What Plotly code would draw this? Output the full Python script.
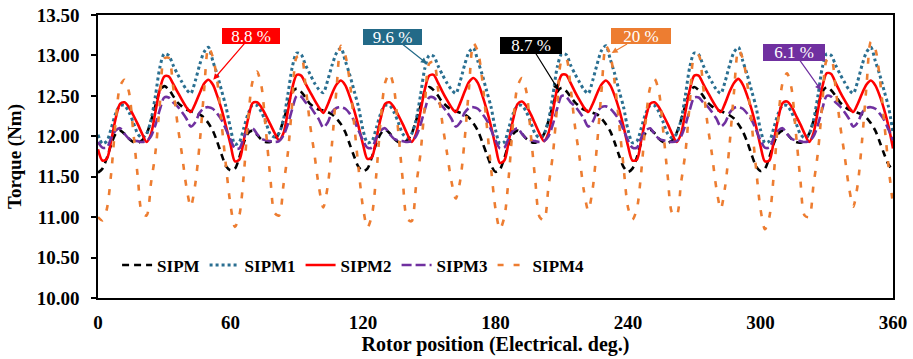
import plotly.graph_objects as go

# Rotor position grid (electrical degrees), every 2 deg from 0 to 360
angle = list(range(0, 361, 2))

# Torque values (Nm), one row per 60-deg period, plus the 360-deg value
sipm = (
    [11.55,11.60,11.73,11.90,12.03,12.07,12.03,11.97,11.93,11.92,11.95,12.03,12.19,12.38,12.56,12.62,12.58,12.50,12.42,12.37,12.33,12.31,12.29,12.27,12.23,12.16,12.07,11.93,11.77,11.63]
  + [11.58,11.60,11.74,11.92,12.04,12.07,12.02,11.96,11.93,11.93,11.96,12.04,12.20,12.38,12.55,12.59,12.55,12.48,12.40,12.36,12.33,12.32,12.30,12.27,12.22,12.15,12.05,11.90,11.75,11.62]
  + [11.57,11.60,11.74,11.91,12.03,12.08,12.04,11.97,11.93,11.92,11.95,12.03,12.19,12.37,12.55,12.61,12.57,12.50,12.42,12.37,12.33,12.31,12.29,12.27,12.23,12.16,12.07,11.93,11.78,11.64]
  + [11.56,11.59,11.73,11.91,12.03,12.07,12.03,11.97,11.93,11.92,11.95,12.03,12.19,12.38,12.55,12.60,12.56,12.49,12.42,12.37,12.33,12.31,12.29,12.27,12.22,12.15,12.06,11.92,11.76,11.62]
  + [11.56,11.60,11.74,11.92,12.04,12.08,12.04,11.97,11.93,11.92,11.95,12.04,12.20,12.38,12.55,12.61,12.57,12.50,12.42,12.37,12.33,12.31,12.29,12.26,12.22,12.15,12.06,11.93,11.77,11.63]
  + [11.57,11.60,11.74,11.91,12.03,12.07,12.03,11.97,11.93,11.92,11.95,12.03,12.19,12.37,12.55,12.61,12.57,12.50,12.42,12.37,12.33,12.31,12.29,12.27,12.23,12.16,12.07,11.93,11.78,11.65]
  + [11.58]
)

sipm1 = (
    [12.02,11.91,11.94,12.10,12.28,12.38,12.38,12.30,12.17,12.03,11.98,12.03,12.20,12.50,12.85,13.02,13.00,12.88,12.77,12.67,12.58,12.53,12.68,12.88,13.04,13.10,12.93,12.76,12.56,12.36]
  + [12.10,11.90,11.93,12.10,12.28,12.39,12.38,12.30,12.17,12.03,11.99,12.04,12.21,12.52,12.86,13.03,13.01,12.88,12.77,12.66,12.58,12.54,12.69,12.88,13.03,13.09,12.93,12.76,12.56,12.36]
  + [12.08,11.92,11.94,12.10,12.28,12.38,12.38,12.30,12.17,12.03,11.98,12.03,12.20,12.50,12.84,13.00,12.99,12.87,12.76,12.66,12.58,12.53,12.68,12.88,13.04,13.09,12.93,12.76,12.56,12.36]
  + [12.08,11.91,11.93,12.10,12.28,12.38,12.38,12.30,12.17,12.03,11.98,12.03,12.20,12.51,12.86,13.02,13.01,12.88,12.77,12.67,12.58,12.53,12.69,12.89,13.06,13.12,12.95,12.77,12.56,12.36]
  + [12.08,11.92,11.94,12.10,12.28,12.38,12.38,12.30,12.17,12.03,11.98,12.03,12.20,12.51,12.86,13.03,13.01,12.88,12.77,12.67,12.58,12.53,12.68,12.88,13.04,13.10,12.93,12.76,12.56,12.36]
  + [12.08,11.92,11.94,12.10,12.28,12.38,12.38,12.30,12.17,12.03,11.98,12.03,12.20,12.50,12.85,13.02,13.00,12.88,12.77,12.67,12.58,12.53,12.68,12.88,13.04,13.10,12.93,12.76,12.56,12.36]
  + [12.04]
)

sipm2 = (
    [11.84,11.70,11.72,11.95,12.22,12.40,12.42,12.36,12.26,12.15,12.03,11.93,12.03,12.30,12.58,12.74,12.74,12.65,12.55,12.45,12.36,12.30,12.40,12.53,12.65,12.70,12.64,12.50,12.33,12.12]
  + [11.90,11.69,11.71,11.95,12.22,12.41,12.42,12.36,12.26,12.15,12.04,11.95,12.04,12.31,12.60,12.76,12.75,12.65,12.55,12.45,12.36,12.29,12.39,12.53,12.64,12.69,12.63,12.49,12.32,12.12]
  + [11.90,11.72,11.74,11.96,12.22,12.40,12.42,12.36,12.26,12.15,12.03,11.93,12.03,12.30,12.58,12.75,12.76,12.66,12.55,12.45,12.36,12.30,12.41,12.55,12.67,12.72,12.66,12.51,12.33,12.12]
  + [11.88,11.67,11.70,11.94,12.21,12.40,12.43,12.37,12.27,12.15,12.03,11.94,12.04,12.31,12.60,12.76,12.76,12.66,12.55,12.45,12.36,12.30,12.40,12.53,12.64,12.69,12.63,12.50,12.33,12.12]
  + [11.88,11.70,11.71,11.95,12.22,12.40,12.42,12.36,12.26,12.15,12.03,11.93,12.03,12.30,12.58,12.75,12.75,12.65,12.55,12.45,12.36,12.30,12.41,12.55,12.66,12.71,12.64,12.50,12.33,12.12]
  + [11.88,11.69,11.70,11.94,12.22,12.41,12.43,12.37,12.26,12.15,12.03,11.93,12.04,12.32,12.61,12.78,12.77,12.66,12.55,12.45,12.36,12.30,12.40,12.53,12.64,12.69,12.63,12.50,12.33,12.12]
  + [11.85]
)

sipm3 = (
    [11.93,11.86,11.86,11.98,12.07,12.10,12.03,11.97,11.95,11.94,11.93,11.94,12.00,12.14,12.33,12.48,12.48,12.42,12.37,12.30,12.22,12.12,12.17,12.29,12.35,12.36,12.34,12.28,12.20,12.08]
  + [11.96,11.85,11.85,11.98,12.08,12.10,12.03,11.97,11.95,11.94,11.93,11.94,12.01,12.15,12.34,12.50,12.49,12.42,12.37,12.29,12.21,12.11,12.17,12.30,12.35,12.36,12.34,12.28,12.19,12.07]
  + [11.95,11.86,11.86,11.98,12.07,12.10,12.03,11.97,11.95,11.94,11.93,11.94,12.00,12.14,12.33,12.48,12.48,12.42,12.37,12.30,12.22,12.12,12.17,12.29,12.35,12.36,12.34,12.28,12.20,12.08]
  + [11.95,11.85,11.86,11.98,12.07,12.10,12.03,11.97,11.95,11.94,11.93,11.94,12.00,12.15,12.35,12.50,12.49,12.42,12.37,12.30,12.22,12.12,12.18,12.30,12.36,12.37,12.34,12.28,12.20,12.08]
  + [11.95,11.86,11.86,11.98,12.07,12.10,12.03,11.97,11.95,11.94,11.93,11.94,12.00,12.14,12.33,12.48,12.48,12.42,12.37,12.30,12.22,12.12,12.17,12.29,12.35,12.36,12.34,12.28,12.20,12.08]
  + [11.95,11.86,11.86,11.98,12.07,12.10,12.03,11.97,11.95,11.94,11.93,11.94,12.00,12.14,12.34,12.50,12.49,12.42,12.37,12.30,12.22,12.12,12.17,12.29,12.35,12.36,12.34,12.28,12.20,12.08]
  + [11.95]
)

sipm4 = (
    [11.00,10.96,11.10,11.55,12.18,12.62,12.70,12.55,12.05,11.50,11.05,11.02,11.42,11.80,12.40,12.96,12.97,12.62,12.15,11.78,11.38,11.13,11.40,11.90,12.55,13.10,12.98,12.68,12.15,11.62]
  + [11.15,10.88,11.02,11.52,12.22,12.68,12.80,12.62,12.08,11.50,11.05,11.02,11.40,11.80,12.42,12.98,12.99,12.62,12.15,11.78,11.38,11.12,11.38,11.92,12.58,13.12,13.00,12.68,12.15,11.60]
  + [11.12,10.87,11.02,11.52,12.20,12.66,12.78,12.60,12.05,11.46,10.98,10.95,11.38,11.78,12.38,12.90,12.92,12.58,12.15,11.80,11.45,11.23,11.45,11.95,12.60,13.15,13.05,12.70,12.15,11.60]
  + [11.10,10.85,11.00,11.50,12.18,12.62,12.72,12.55,12.02,11.46,11.00,10.96,11.38,11.78,12.40,12.94,12.96,12.60,12.12,11.75,11.33,11.08,11.35,11.90,12.56,13.12,13.00,12.66,12.15,11.62]
  + [11.12,10.97,11.10,11.56,12.18,12.60,12.71,12.55,12.05,11.50,11.05,11.02,11.42,11.80,12.42,12.98,13.00,12.62,12.15,11.78,11.36,11.10,11.38,11.90,12.55,13.07,12.96,12.65,12.15,11.60]
  + [11.10,10.85,11.00,11.52,12.20,12.66,12.78,12.60,12.05,11.48,11.02,11.00,11.40,11.80,12.40,12.94,12.96,12.60,12.15,11.78,11.38,11.13,11.40,11.95,12.62,13.17,13.08,12.72,12.18,11.62]
  + [11.15]
)

names = ["SIPM", "SIPM1", "SIPM2", "SIPM3", "SIPM4"]
series = [sipm, sipm1, sipm2, sipm3, sipm4]
colors = ["#000000", "#2A6F91", "#FF0000", "#7030A0", "#ED7D31"]
dashes = ["7px,5px", "3px,3px", "solid", "10px,4px", "6px,10px"]
widths = [2.6, 3.0, 2.6, 2.6, 2.6]

x_ticks = [0, 60, 120, 180, 240, 300, 360]

# Ripple annotations: label, arrow-head angle, arrow-head torque, box colour, offsets
ann_labels = ["8.8 %", "9.6 %", "8.7 %", "20 %", "6.1 %"]
ann_x = [52.2, 148.9, 208.6, 232.6, 327.4]
ann_y = [12.70, 12.90, 12.57, 13.03, 12.57]
ann_colors = ["#FF0000", "#236A88", "#000000", "#ED7D31", "#7030A0"]
ann_ax = [38, -34, -28, 29, -27]
ann_ay = [-44, -27, -45, -17, -38]
ann_w = [58, 59, 62, 60, 62]
ann_h = [16, 16, 17, 16, 17]

FONT = "Liberation Serif"

fig = go.Figure()
for n, s, c, d, w in zip(names, series, colors, dashes, widths):
    fig.add_trace(go.Scatter(
        x=angle, y=s, name=n, mode="lines",
        line=dict(color=c, dash=d, width=w, shape="spline", smoothing=0.8),
    ))

for t, xa, ya, c, ax, ay, bw, bh in zip(ann_labels, ann_x, ann_y, ann_colors, ann_ax, ann_ay, ann_w, ann_h):
    fig.add_annotation(
        x=xa, y=ya, xref="x", yref="y", text=t,
        showarrow=True, arrowhead=2, arrowsize=1, arrowwidth=1.2, arrowcolor=c,
        ax=ax, ay=ay, standoff=0,
        bgcolor=c, bordercolor=c, borderwidth=0, borderpad=0,
        width=bw, height=bh,
        font=dict(family=FONT, size=17, color="white"),
    )

fig.update_layout(
    width=913, height=359,
    margin=dict(l=98, r=20, t=15, b=61, autoexpand=False),
    paper_bgcolor="white", plot_bgcolor="white",
    font=dict(family=FONT, color="black"),
    showlegend=True,
    legend=dict(
        orientation="h", x=0.024, xanchor="left", y=0.115, yanchor="middle",
        font=dict(family=FONT, size=17, color="black", weight="bold"),
        bgcolor="rgba(0,0,0,0)", itemwidth=30, tracegroupgap=0,
    ),
    xaxis=dict(
        range=[0, 360], tickvals=x_ticks, ticktext=[str(v) for v in x_ticks],
        showline=True, linecolor="black", linewidth=1.5, mirror=True,
        ticks="", showgrid=False, zeroline=False, automargin=False,
        tickfont=dict(family=FONT, size=19, color="black", weight="bold"),
        ticklabelstandoff=6,
        title=dict(text="Rotor position (Electrical. deg.)", standoff=4,
                   font=dict(family=FONT, size=20, color="black", weight="bold")),
    ),
    yaxis=dict(
        range=[10, 13.5], dtick=0.5, tick0=10, tickformat=".2f",
        showline=True, linecolor="black", linewidth=1.5, mirror=True,
        ticks="outside", ticklen=5, tickwidth=1.5, tickcolor="black",
        showgrid=False, zeroline=False, automargin=False,
        tickfont=dict(family=FONT, size=19, color="black", weight="bold"),
        ticklabelstandoff=8,
        title=dict(text="Torque (Nm)", standoff=10,
                   font=dict(family=FONT, size=19, color="black", weight="bold")),
    ),
)

fig.write_html("out.html")
